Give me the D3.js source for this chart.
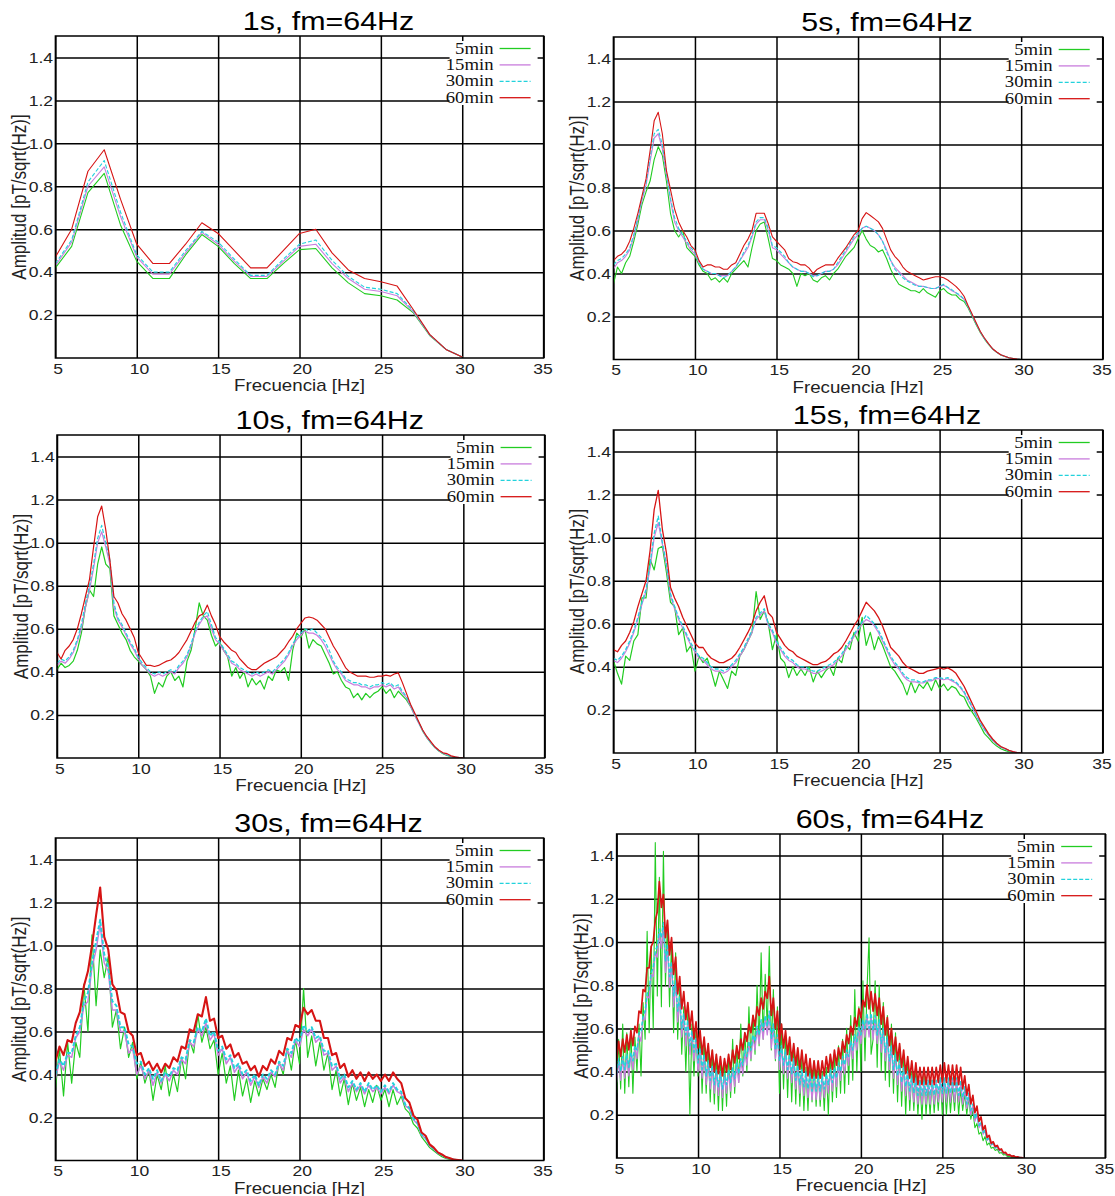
<!DOCTYPE html>
<html>
<head>
<meta charset="utf-8">
<script src="https://cdn.jsdelivr.net/npm/d3@7"></script>
<style>
  body { margin: 0; background: #fff; }
  svg { display: block; }
</style>
</head>
<body>
<div id="chart"></div>
<script>
// frequency grid of the spectra (Hz)
const freqStart = 5;
const freqStep1s = 1;      // 1 s windows -> 1 Hz bins
const freqStep = 0.25;     // 5..30 s windows, read every 0.25 Hz
const freqStep60s = 0.125; // 60 s window, read every 0.125 Hz

const seriesLabels = ["5min", "15min", "30min", "60min"];
const panelTitles = ["1s, fm=64Hz", "5s, fm=64Hz", "10s, fm=64Hz", "15s, fm=64Hz", "30s, fm=64Hz", "60s, fm=64Hz"];
const xTicks = [5, 10, 15, 20, 25, 30, 35];
const yTicks = [0.2, 0.4, 0.6, 0.8, 1.0, 1.2, 1.4];

// amplitudes [pT/sqrt(Hz)]
// --- 1 s window, 5..30 Hz every 1 Hz
const amp1s_5min  = [0.42, 0.52, 0.77, 0.86, 0.62, 0.45, 0.37, 0.37, 0.48, 0.575, 0.52, 0.44, 0.37, 0.37, 0.44, 0.505, 0.51, 0.42, 0.35, 0.30, 0.29, 0.27, 0.21, 0.105, 0.04, 0.005];
const amp1s_15min = [0.43, 0.54, 0.80, 0.89, 0.66, 0.47, 0.39, 0.39, 0.49, 0.585, 0.53, 0.45, 0.38, 0.38, 0.45, 0.52, 0.53, 0.44, 0.37, 0.32, 0.31, 0.29, 0.215, 0.107, 0.04, 0.005];
const amp1s_30min = [0.44, 0.55, 0.82, 0.92, 0.68, 0.48, 0.40, 0.40, 0.50, 0.59, 0.54, 0.46, 0.385, 0.385, 0.46, 0.53, 0.55, 0.455, 0.38, 0.33, 0.32, 0.30, 0.22, 0.108, 0.04, 0.005];
const amp1s_60min = [0.47, 0.60, 0.87, 0.97, 0.74, 0.53, 0.44, 0.44, 0.53, 0.63, 0.58, 0.50, 0.42, 0.42, 0.50, 0.58, 0.60, 0.49, 0.41, 0.37, 0.355, 0.335, 0.225, 0.11, 0.04, 0.005];

// --- 5 s window, 5..30 Hz every 0.25 Hz
const amp5s_5min = [
  0.35, 0.43, 0.40, 0.45, 0.48, 0.55, 0.63, 0.72,
  0.78, 0.83, 0.93, 0.99, 0.95, 0.83, 0.68, 0.60,
  0.57, 0.60, 0.52, 0.50, 0.48, 0.44, 0.41, 0.40,
  0.37, 0.38, 0.36, 0.38, 0.36, 0.40, 0.42, 0.44,
  0.46, 0.43, 0.52, 0.60, 0.63, 0.64, 0.56, 0.47,
  0.46, 0.44, 0.43, 0.42, 0.40, 0.34, 0.40, 0.39,
  0.40, 0.37, 0.36, 0.38, 0.39, 0.37, 0.40, 0.42,
  0.45, 0.48, 0.50, 0.52, 0.56, 0.60, 0.56, 0.53,
  0.52, 0.50, 0.51, 0.47, 0.42, 0.38, 0.35, 0.34,
  0.33, 0.32, 0.32, 0.31, 0.33, 0.31, 0.30, 0.29,
  0.32, 0.33, 0.31, 0.30, 0.30, 0.28, 0.27, 0.24,
  0.20, 0.16, 0.125, 0.095, 0.07, 0.048, 0.033, 0.021,
  0.014, 0.008, 0.004, 0.002, 0
];
const amp5s_15min = [
  0.42, 0.45, 0.46, 0.48, 0.51, 0.57, 0.65, 0.74,
  0.81, 0.92, 1.03, 1.05, 0.98, 0.86, 0.74, 0.64,
  0.60, 0.57, 0.54, 0.51, 0.49, 0.45, 0.42, 0.41,
  0.40, 0.40, 0.39, 0.39, 0.39, 0.41, 0.43, 0.46,
  0.49, 0.52, 0.57, 0.63, 0.65, 0.65, 0.60, 0.52,
  0.51, 0.49, 0.47, 0.45, 0.43, 0.42, 0.41, 0.41,
  0.40, 0.39, 0.39, 0.40, 0.41, 0.41, 0.42, 0.44,
  0.47, 0.50, 0.53, 0.56, 0.58, 0.61, 0.62, 0.61,
  0.60, 0.58, 0.55, 0.51, 0.46, 0.43, 0.41, 0.39,
  0.37, 0.36, 0.35, 0.34, 0.34, 0.335, 0.33, 0.33,
  0.34, 0.345, 0.335, 0.32, 0.31, 0.295, 0.28, 0.245,
  0.205, 0.165, 0.128, 0.097, 0.072, 0.049, 0.034, 0.022,
  0.014, 0.008, 0.004, 0.002, 0
];
const amp5s_30min = [
  0.44, 0.46, 0.47, 0.49, 0.52, 0.58, 0.66, 0.75,
  0.82, 0.94, 1.05, 1.07, 1.00, 0.87, 0.75, 0.66,
  0.61, 0.58, 0.55, 0.52, 0.50, 0.45, 0.42, 0.41,
  0.40, 0.40, 0.39, 0.38, 0.39, 0.41, 0.43, 0.46,
  0.50, 0.53, 0.58, 0.64, 0.66, 0.66, 0.61, 0.53,
  0.52, 0.50, 0.48, 0.45, 0.43, 0.42, 0.41, 0.41,
  0.40, 0.385, 0.39, 0.40, 0.41, 0.41, 0.42, 0.45,
  0.48, 0.51, 0.54, 0.57, 0.59, 0.61, 0.62, 0.61,
  0.60, 0.58, 0.55, 0.50, 0.46, 0.42, 0.40, 0.38,
  0.365, 0.355, 0.345, 0.34, 0.34, 0.335, 0.33, 0.33,
  0.34, 0.35, 0.335, 0.325, 0.31, 0.30, 0.28, 0.245,
  0.205, 0.165, 0.128, 0.097, 0.072, 0.049, 0.034, 0.022,
  0.014, 0.008, 0.004, 0.002, 0
];
const amp5s_60min = [
  0.46, 0.48, 0.49, 0.51, 0.55, 0.61, 0.68, 0.76,
  0.84, 0.97, 1.11, 1.15, 1.05, 0.88, 0.79, 0.70,
  0.64, 0.60, 0.57, 0.53, 0.51, 0.46, 0.43, 0.44,
  0.44, 0.43, 0.43, 0.42, 0.42, 0.44, 0.45, 0.49,
  0.53, 0.56, 0.60, 0.68, 0.68, 0.68, 0.63, 0.57,
  0.55, 0.53, 0.51, 0.47, 0.455, 0.45, 0.44, 0.44,
  0.425, 0.40, 0.42, 0.43, 0.44, 0.44, 0.44, 0.47,
  0.495, 0.52, 0.55, 0.58, 0.60, 0.655, 0.683, 0.67,
  0.655, 0.64, 0.61, 0.56, 0.51, 0.48, 0.46, 0.43,
  0.41, 0.40, 0.39, 0.38, 0.37, 0.375, 0.38, 0.385,
  0.385, 0.38, 0.37, 0.355, 0.34, 0.32, 0.294, 0.25,
  0.21, 0.17, 0.13, 0.10, 0.074, 0.05, 0.035, 0.022,
  0.015, 0.008, 0.005, 0.002, 0
];

// --- 10 s window
const amp10s_5min = [
  0.41, 0.44, 0.42, 0.43, 0.45, 0.50, 0.58, 0.70,
  0.78, 0.75, 0.90, 0.98, 0.90, 0.88, 0.66, 0.62,
  0.58, 0.55, 0.50, 0.47, 0.45, 0.43, 0.41, 0.38,
  0.30, 0.35, 0.33, 0.38, 0.40, 0.36, 0.38, 0.33,
  0.45, 0.50, 0.60, 0.72, 0.66, 0.64, 0.57, 0.52,
  0.54, 0.50, 0.47, 0.38, 0.42, 0.37, 0.40, 0.33,
  0.37, 0.34, 0.36, 0.32, 0.38, 0.36, 0.41, 0.40,
  0.42, 0.36, 0.50, 0.58, 0.56, 0.60, 0.51, 0.55,
  0.53, 0.52, 0.48, 0.44, 0.39, 0.40, 0.36, 0.33,
  0.32, 0.28, 0.30, 0.27, 0.30, 0.28, 0.30, 0.31,
  0.33, 0.30, 0.32, 0.28, 0.31, 0.29, 0.27, 0.24,
  0.20, 0.165, 0.125, 0.095, 0.07, 0.048, 0.032, 0.02,
  0.012, 0.007, 0.003, 0.001, 0
];
const amp10s_15min = [
  0.43, 0.45, 0.44, 0.46, 0.49, 0.54, 0.60, 0.70,
  0.78, 0.88, 1.00, 1.05, 0.98, 0.90, 0.70, 0.64,
  0.61, 0.57, 0.53, 0.50, 0.46, 0.43, 0.41, 0.39,
  0.38, 0.39, 0.38, 0.39, 0.40, 0.39, 0.42, 0.44,
  0.47, 0.52, 0.58, 0.62, 0.65, 0.66, 0.60, 0.55,
  0.53, 0.50, 0.47, 0.44, 0.43, 0.41, 0.40, 0.39,
  0.38, 0.39, 0.38, 0.39, 0.40, 0.39, 0.41, 0.43,
  0.45, 0.48, 0.52, 0.55, 0.57, 0.59, 0.58, 0.58,
  0.57, 0.55, 0.52, 0.48, 0.44, 0.41, 0.39, 0.36,
  0.35, 0.34, 0.34, 0.33, 0.33, 0.32, 0.33, 0.33,
  0.34, 0.33, 0.34, 0.32, 0.33, 0.30, 0.28, 0.24,
  0.20, 0.163, 0.127, 0.096, 0.071, 0.049, 0.034, 0.022,
  0.014, 0.008, 0.004, 0.002, 0
];
const amp10s_30min = [
  0.44, 0.46, 0.45, 0.47, 0.50, 0.55, 0.62, 0.72,
  0.80, 0.90, 1.02, 1.08, 1.00, 0.92, 0.72, 0.65,
  0.62, 0.58, 0.54, 0.51, 0.47, 0.44, 0.42, 0.40,
  0.39, 0.40, 0.39, 0.40, 0.41, 0.40, 0.43, 0.45,
  0.48, 0.53, 0.59, 0.63, 0.66, 0.68, 0.62, 0.56,
  0.54, 0.51, 0.48, 0.45, 0.44, 0.42, 0.41, 0.40,
  0.39, 0.40, 0.39, 0.40, 0.41, 0.40, 0.42, 0.44,
  0.46, 0.49, 0.53, 0.56, 0.58, 0.60, 0.59, 0.60,
  0.58, 0.56, 0.54, 0.50, 0.45, 0.42, 0.40, 0.37,
  0.36, 0.35, 0.35, 0.34, 0.34, 0.33, 0.34, 0.34,
  0.35, 0.34, 0.35, 0.33, 0.34, 0.31, 0.285, 0.245,
  0.205, 0.165, 0.128, 0.097, 0.072, 0.049, 0.034, 0.022,
  0.014, 0.008, 0.004, 0.002, 0
];
const amp10s_60min = [
  0.49, 0.46, 0.50, 0.52, 0.55, 0.60, 0.67, 0.75,
  0.83, 0.98, 1.12, 1.17, 1.06, 0.92, 0.75, 0.72,
  0.67, 0.64, 0.60, 0.56, 0.49, 0.46, 0.43, 0.43,
  0.425, 0.43, 0.44, 0.45, 0.455, 0.47, 0.49, 0.52,
  0.55, 0.59, 0.63, 0.66, 0.67, 0.71, 0.66, 0.62,
  0.565, 0.54, 0.52, 0.50, 0.49, 0.46, 0.44, 0.42,
  0.41, 0.41, 0.425, 0.44, 0.45, 0.46, 0.47, 0.49,
  0.51, 0.54, 0.565, 0.60, 0.625, 0.65, 0.655, 0.65,
  0.64, 0.62, 0.60, 0.56, 0.52, 0.49, 0.455, 0.42,
  0.40, 0.39, 0.38, 0.38, 0.38, 0.375, 0.375, 0.38,
  0.38, 0.385, 0.38, 0.39, 0.395, 0.35, 0.30, 0.25,
  0.21, 0.17, 0.13, 0.10, 0.076, 0.052, 0.036, 0.024,
  0.02, 0.01, 0.005, 0.002, 0
];

// --- 15 s window
const amp15s_5min = [
  0.43, 0.37, 0.32, 0.45, 0.43, 0.52, 0.55, 0.72,
  0.72, 0.90, 0.85, 0.95, 0.96, 0.84, 0.70, 0.68,
  0.55, 0.58, 0.47, 0.50, 0.38, 0.45, 0.42, 0.44,
  0.38, 0.31, 0.38, 0.34, 0.30, 0.38, 0.36, 0.45,
  0.48, 0.52, 0.56, 0.75, 0.62, 0.66, 0.60, 0.48,
  0.55, 0.44, 0.42, 0.35, 0.40, 0.36, 0.39, 0.36,
  0.40, 0.33, 0.38, 0.35, 0.38, 0.40, 0.36, 0.44,
  0.42, 0.50, 0.48, 0.56, 0.52, 0.63, 0.50, 0.56,
  0.48, 0.54, 0.50, 0.45, 0.40, 0.38, 0.35, 0.32,
  0.27, 0.33, 0.28, 0.32, 0.30, 0.33, 0.29, 0.34,
  0.30, 0.32, 0.29, 0.31, 0.30, 0.27, 0.26, 0.22,
  0.19, 0.16, 0.125, 0.09, 0.07, 0.048, 0.032, 0.02,
  0.012, 0.006, 0.003, 0.001, 0
];
const amp15s_15min = [
  0.43, 0.42, 0.44, 0.47, 0.51, 0.56, 0.62, 0.69,
  0.75, 0.86, 1.00, 1.07, 0.97, 0.87, 0.73, 0.67,
  0.62, 0.58, 0.54, 0.50, 0.47, 0.44, 0.43, 0.41,
  0.39, 0.38, 0.38, 0.37, 0.38, 0.40, 0.42, 0.45,
  0.48, 0.52, 0.56, 0.62, 0.64, 0.66, 0.59, 0.56,
  0.51, 0.48, 0.45, 0.43, 0.42, 0.40, 0.39, 0.39,
  0.38, 0.37, 0.37, 0.38, 0.39, 0.40, 0.41, 0.43,
  0.45, 0.48, 0.51, 0.54, 0.57, 0.60, 0.62, 0.61,
  0.59, 0.56, 0.52, 0.48, 0.44, 0.41, 0.39, 0.36,
  0.34, 0.33, 0.33, 0.325, 0.325, 0.335, 0.335, 0.345,
  0.345, 0.34, 0.345, 0.335, 0.325, 0.305, 0.28, 0.245,
  0.21, 0.172, 0.138, 0.108, 0.083, 0.058, 0.041, 0.027,
  0.019, 0.011, 0.005, 0.002, 0
];
const amp15s_30min = [
  0.44, 0.43, 0.45, 0.48, 0.52, 0.57, 0.63, 0.70,
  0.76, 0.88, 1.02, 1.10, 0.98, 0.88, 0.74, 0.68,
  0.63, 0.59, 0.55, 0.51, 0.48, 0.45, 0.44, 0.42,
  0.40, 0.39, 0.39, 0.38, 0.39, 0.41, 0.43, 0.46,
  0.49, 0.53, 0.57, 0.63, 0.65, 0.67, 0.60, 0.57,
  0.52, 0.49, 0.46, 0.44, 0.43, 0.41, 0.40, 0.40,
  0.39, 0.38, 0.38, 0.39, 0.40, 0.41, 0.42, 0.44,
  0.46, 0.49, 0.52, 0.55, 0.58, 0.61, 0.64, 0.62,
  0.60, 0.57, 0.53, 0.49, 0.45, 0.42, 0.40, 0.37,
  0.35, 0.34, 0.34, 0.33, 0.33, 0.34, 0.34, 0.35,
  0.35, 0.345, 0.35, 0.34, 0.33, 0.31, 0.285, 0.25,
  0.215, 0.175, 0.14, 0.11, 0.085, 0.06, 0.042, 0.028,
  0.02, 0.011, 0.005, 0.002, 0
];
const amp15s_60min = [
  0.48, 0.47, 0.50, 0.52, 0.56, 0.61, 0.68, 0.74,
  0.80, 0.94, 1.13, 1.22, 1.04, 0.93, 0.77, 0.72,
  0.68, 0.63, 0.59, 0.55, 0.51, 0.49, 0.49, 0.46,
  0.44, 0.43, 0.42, 0.42, 0.43, 0.44, 0.46, 0.49,
  0.525, 0.56, 0.60, 0.66, 0.70, 0.73, 0.65, 0.63,
  0.56, 0.53, 0.50, 0.48, 0.47, 0.45, 0.44, 0.43,
  0.42, 0.41, 0.41, 0.42, 0.425, 0.44, 0.46, 0.47,
  0.49, 0.52, 0.555, 0.59, 0.62, 0.66, 0.70, 0.68,
  0.66, 0.63, 0.59, 0.54, 0.49, 0.47, 0.45, 0.42,
  0.40, 0.39, 0.38, 0.37, 0.37, 0.38, 0.385, 0.39,
  0.395, 0.39, 0.395, 0.385, 0.37, 0.34, 0.31, 0.27,
  0.23, 0.19, 0.15, 0.12, 0.09, 0.065, 0.045, 0.03,
  0.022, 0.012, 0.006, 0.002, 0
];

// --- 30 s window
const amp30s_5min = [
  0.33, 0.52, 0.30, 0.55, 0.36, 0.55, 0.48, 0.82,
  0.60, 1.05, 0.72, 0.98, 0.85, 0.95, 0.62, 0.70,
  0.52, 0.62, 0.48, 0.55, 0.38, 0.46, 0.36, 0.42,
  0.28, 0.40, 0.33, 0.44, 0.30, 0.40, 0.32, 0.48,
  0.38, 0.56, 0.50, 0.68, 0.55, 0.62, 0.52, 0.56,
  0.40, 0.50, 0.36, 0.44, 0.28, 0.42, 0.30, 0.38,
  0.27, 0.37, 0.30, 0.38, 0.33, 0.40, 0.34, 0.46,
  0.40, 0.52, 0.42, 0.56, 0.45, 0.80, 0.48, 0.58,
  0.44, 0.55, 0.42, 0.50, 0.33, 0.42, 0.30, 0.38,
  0.26, 0.36, 0.28, 0.34, 0.25, 0.33, 0.27, 0.35,
  0.28, 0.33, 0.25, 0.33, 0.26, 0.30, 0.24, 0.22,
  0.17, 0.15, 0.11, 0.085, 0.06, 0.045, 0.03, 0.018,
  0.01, 0.005, 0.002, 0.001, 0
];
const amp30s_15min = [
  0.38, 0.46, 0.42, 0.49, 0.48, 0.57, 0.60, 0.72,
  0.74, 0.90, 0.98, 1.10, 0.92, 0.88, 0.70, 0.70,
  0.60, 0.60, 0.50, 0.52, 0.40, 0.44, 0.38, 0.42,
  0.35, 0.41, 0.36, 0.40, 0.37, 0.42, 0.40, 0.47,
  0.45, 0.55, 0.53, 0.61, 0.58, 0.64, 0.56, 0.59,
  0.49, 0.52, 0.45, 0.48, 0.41, 0.44, 0.38, 0.41,
  0.35, 0.39, 0.34, 0.39, 0.36, 0.41, 0.39, 0.45,
  0.42, 0.51, 0.48, 0.56, 0.53, 0.61, 0.58, 0.61,
  0.55, 0.57, 0.49, 0.50, 0.42, 0.44, 0.36, 0.39,
  0.32, 0.36, 0.32, 0.35, 0.31, 0.35, 0.32, 0.34,
  0.31, 0.34, 0.31, 0.35, 0.32, 0.31, 0.255, 0.24,
  0.19, 0.17, 0.118, 0.103, 0.068, 0.054, 0.034, 0.025,
  0.014, 0.009, 0.004, 0.002, 0
];
const amp30s_30min = [
  0.40, 0.47, 0.44, 0.50, 0.50, 0.58, 0.62, 0.74,
  0.78, 0.92, 1.02, 1.12, 0.96, 0.90, 0.74, 0.72,
  0.62, 0.62, 0.54, 0.53, 0.45, 0.46, 0.40, 0.43,
  0.38, 0.42, 0.37, 0.41, 0.39, 0.43, 0.42, 0.48,
  0.47, 0.56, 0.55, 0.62, 0.60, 0.66, 0.58, 0.60,
  0.51, 0.53, 0.47, 0.49, 0.43, 0.45, 0.40, 0.42,
  0.37, 0.40, 0.35, 0.40, 0.38, 0.42, 0.40, 0.46,
  0.44, 0.52, 0.50, 0.57, 0.55, 0.63, 0.60, 0.62,
  0.57, 0.58, 0.51, 0.51, 0.44, 0.45, 0.38, 0.40,
  0.34, 0.37, 0.33, 0.36, 0.32, 0.36, 0.33, 0.35,
  0.32, 0.35, 0.32, 0.36, 0.33, 0.32, 0.26, 0.245,
  0.195, 0.175, 0.12, 0.105, 0.07, 0.055, 0.035, 0.026,
  0.015, 0.009, 0.004, 0.002, 0
];
const amp30s_60min = [
  0.46, 0.53, 0.49, 0.56, 0.55, 0.64, 0.69, 0.81,
  0.88, 1.00, 1.14, 1.27, 1.04, 0.98, 0.82, 0.79,
  0.69, 0.68, 0.60, 0.58, 0.49, 0.50, 0.44, 0.46,
  0.42, 0.45, 0.41, 0.45, 0.43, 0.48, 0.46, 0.53,
  0.52, 0.61, 0.60, 0.68, 0.67, 0.76, 0.65, 0.66,
  0.57, 0.58, 0.52, 0.54, 0.48, 0.50, 0.45, 0.46,
  0.42, 0.44, 0.39, 0.44, 0.42, 0.47, 0.45, 0.51,
  0.49, 0.57, 0.56, 0.63, 0.62, 0.71, 0.68, 0.70,
  0.65, 0.65, 0.57, 0.57, 0.49, 0.50, 0.43, 0.45,
  0.39, 0.42, 0.38, 0.41, 0.37, 0.41, 0.38, 0.40,
  0.37, 0.40, 0.37, 0.41, 0.38, 0.36, 0.29, 0.27,
  0.21, 0.19, 0.13, 0.115, 0.075, 0.06, 0.038, 0.028,
  0.016, 0.01, 0.004, 0.002, 0
];

// --- 60 s window, 5..30 Hz every 0.125 Hz (one row per Hz)
const amp60s_5min = [
  0.30, 0.55, 0.32, 0.62, 0.30, 0.58, 0.33, 0.60,
  0.30, 0.56, 0.40, 0.62, 0.38, 0.72, 0.55, 1.05,
  0.58, 0.98, 0.60, 1.46, 0.75, 1.30, 0.70, 1.42,
  0.80, 1.10, 0.70, 1.00, 0.58, 0.95, 0.55, 0.80,
  0.48, 0.70, 0.40, 0.68, 0.20, 0.62, 0.38, 0.60,
  0.38, 0.58, 0.30, 0.55, 0.30, 0.52, 0.26, 0.50,
  0.25, 0.48, 0.22, 0.46, 0.22, 0.45, 0.24, 0.48,
  0.28, 0.55, 0.30, 0.52, 0.35, 0.62, 0.38, 0.58,
  0.40, 0.70, 0.45, 0.66, 0.48, 0.80, 0.52, 0.95,
  0.55, 0.85, 0.60, 0.98, 0.50, 0.78, 0.45, 0.70,
  0.30, 0.62, 0.32, 0.58, 0.28, 0.55, 0.26, 0.52,
  0.25, 0.50, 0.24, 0.46, 0.22, 0.42, 0.22, 0.44,
  0.26, 0.45, 0.24, 0.42, 0.24, 0.40, 0.22, 0.42,
  0.20, 0.48, 0.26, 0.48, 0.28, 0.52, 0.30, 0.55,
  0.30, 0.60, 0.34, 0.66, 0.36, 0.78, 0.40, 0.70,
  0.40, 0.82, 0.45, 0.78, 1.02, 0.48, 0.55, 0.82,
  0.42, 0.80, 0.40, 0.72, 0.36, 0.66, 0.33, 0.62,
  0.30, 0.58, 0.26, 0.52, 0.24, 0.48, 0.20, 0.44,
  0.22, 0.40, 0.22, 0.40, 0.20, 0.36, 0.18, 0.38,
  0.20, 0.34, 0.20, 0.36, 0.21, 0.35, 0.22, 0.37,
  0.20, 0.36, 0.20, 0.35, 0.21, 0.34, 0.22, 0.36,
  0.20, 0.32, 0.22, 0.30, 0.20, 0.28, 0.18, 0.22,
  0.14, 0.16, 0.11, 0.12, 0.08, 0.10, 0.06, 0.07,
  0.045, 0.05, 0.035, 0.04, 0.022, 0.025, 0.014, 0.016,
  0.007, 0.008, 0.004, 0.004, 0.002, 0.002, 0.001, 0.001,
  0
];
const amp60s_15min = [
  0.35, 0.45, 0.36, 0.46, 0.37, 0.47, 0.38, 0.48,
  0.41, 0.51, 0.46, 0.57, 0.54, 0.65, 0.64, 0.75,
  0.74, 0.85, 0.84, 0.95, 0.93, 1.04, 0.97, 1.07,
  0.86, 0.97, 0.79, 0.90, 0.70, 0.81, 0.63, 0.74,
  0.56, 0.66, 0.52, 0.62, 0.48, 0.58, 0.45, 0.55,
  0.40, 0.50, 0.37, 0.47, 0.34, 0.44, 0.32, 0.42,
  0.30, 0.40, 0.29, 0.39, 0.28, 0.38, 0.30, 0.40,
  0.31, 0.41, 0.33, 0.43, 0.35, 0.45, 0.39, 0.49,
  0.43, 0.53, 0.46, 0.56, 0.50, 0.60, 0.53, 0.63,
  0.55, 0.65, 0.57, 0.67, 0.51, 0.61, 0.46, 0.56,
  0.41, 0.51, 0.39, 0.49, 0.37, 0.47, 0.35, 0.45,
  0.32, 0.42, 0.30, 0.40, 0.29, 0.39, 0.28, 0.38,
  0.27, 0.37, 0.27, 0.37, 0.27, 0.37, 0.28, 0.38,
  0.30, 0.40, 0.31, 0.41, 0.33, 0.43, 0.36, 0.46,
  0.39, 0.49, 0.43, 0.53, 0.46, 0.56, 0.50, 0.60,
  0.53, 0.63, 0.56, 0.66, 0.56, 0.66, 0.55, 0.65,
  0.53, 0.63, 0.49, 0.59, 0.45, 0.55, 0.41, 0.51,
  0.37, 0.47, 0.34, 0.44, 0.31, 0.41, 0.29, 0.39,
  0.27, 0.37, 0.26, 0.36, 0.25, 0.35, 0.25, 0.35,
  0.25, 0.35, 0.25, 0.35, 0.25, 0.35, 0.26, 0.36,
  0.26, 0.36, 0.26, 0.36, 0.26, 0.36, 0.26, 0.36,
  0.26, 0.35, 0.25, 0.32, 0.23, 0.29, 0.20, 0.24,
  0.17, 0.20, 0.14, 0.16, 0.11, 0.125, 0.082, 0.092,
  0.06, 0.066, 0.046, 0.05, 0.033, 0.036, 0.021, 0.023,
  0.012, 0.013, 0.007, 0.008, 0.004, 0.004, 0.002, 0.002,
  0
];
const amp60s_30min = [
  0.39, 0.46, 0.40, 0.47, 0.41, 0.48, 0.42, 0.49,
  0.45, 0.52, 0.50, 0.58, 0.58, 0.66, 0.68, 0.76,
  0.78, 0.86, 0.88, 0.96, 0.98, 1.06, 1.02, 1.09,
  0.91, 0.99, 0.84, 0.91, 0.75, 0.82, 0.68, 0.75,
  0.60, 0.67, 0.57, 0.64, 0.52, 0.59, 0.49, 0.56,
  0.44, 0.51, 0.41, 0.48, 0.38, 0.45, 0.36, 0.43,
  0.34, 0.41, 0.33, 0.40, 0.32, 0.39, 0.34, 0.41,
  0.35, 0.42, 0.37, 0.44, 0.39, 0.46, 0.43, 0.50,
  0.47, 0.54, 0.50, 0.57, 0.54, 0.61, 0.57, 0.64,
  0.59, 0.66, 0.61, 0.68, 0.55, 0.62, 0.50, 0.57,
  0.45, 0.52, 0.43, 0.50, 0.41, 0.48, 0.39, 0.46,
  0.36, 0.43, 0.34, 0.41, 0.33, 0.40, 0.32, 0.39,
  0.31, 0.38, 0.31, 0.38, 0.31, 0.38, 0.32, 0.39,
  0.34, 0.41, 0.35, 0.42, 0.37, 0.44, 0.40, 0.47,
  0.43, 0.50, 0.47, 0.54, 0.50, 0.57, 0.54, 0.61,
  0.57, 0.64, 0.60, 0.67, 0.60, 0.67, 0.59, 0.66,
  0.57, 0.64, 0.53, 0.60, 0.49, 0.56, 0.45, 0.52,
  0.41, 0.48, 0.38, 0.45, 0.35, 0.42, 0.33, 0.40,
  0.31, 0.38, 0.30, 0.37, 0.29, 0.36, 0.29, 0.36,
  0.29, 0.36, 0.29, 0.36, 0.29, 0.36, 0.30, 0.37,
  0.30, 0.37, 0.30, 0.37, 0.30, 0.37, 0.30, 0.37,
  0.29, 0.36, 0.28, 0.33, 0.25, 0.30, 0.22, 0.25,
  0.18, 0.21, 0.15, 0.17, 0.115, 0.13, 0.085, 0.095,
  0.062, 0.068, 0.048, 0.052, 0.034, 0.037, 0.022, 0.024,
  0.012, 0.014, 0.007, 0.009, 0.004, 0.005, 0.002, 0.002,
  0
];
const amp60s_60min = [
  0.45, 0.54, 0.47, 0.55, 0.49, 0.57, 0.50, 0.59,
  0.52, 0.61, 0.58, 0.68, 0.67, 0.78, 0.77, 0.88,
  0.88, 0.98, 1.00, 1.10, 1.14, 1.28, 1.16, 1.22,
  1.02, 1.10, 0.94, 1.02, 0.85, 0.93, 0.76, 0.84,
  0.69, 0.77, 0.64, 0.72, 0.60, 0.68, 0.55, 0.63,
  0.51, 0.59, 0.48, 0.56, 0.45, 0.53, 0.42, 0.50,
  0.40, 0.48, 0.39, 0.47, 0.38, 0.46, 0.40, 0.48,
  0.41, 0.50, 0.44, 0.52, 0.46, 0.55, 0.50, 0.58,
  0.54, 0.62, 0.58, 0.66, 0.61, 0.70, 0.66, 0.74,
  0.69, 0.77, 0.74, 0.84, 0.66, 0.74, 0.60, 0.68,
  0.54, 0.62, 0.51, 0.59, 0.48, 0.56, 0.45, 0.53,
  0.43, 0.51, 0.41, 0.50, 0.40, 0.48, 0.38, 0.46,
  0.37, 0.45, 0.37, 0.45, 0.37, 0.45, 0.38, 0.47,
  0.40, 0.48, 0.41, 0.50, 0.43, 0.51, 0.46, 0.54,
  0.49, 0.57, 0.53, 0.61, 0.57, 0.65, 0.61, 0.69,
  0.65, 0.73, 0.70, 0.80, 0.69, 0.77, 0.68, 0.76,
  0.66, 0.74, 0.62, 0.70, 0.57, 0.65, 0.52, 0.60,
  0.48, 0.56, 0.45, 0.53, 0.42, 0.50, 0.39, 0.47,
  0.37, 0.45, 0.35, 0.44, 0.34, 0.42, 0.34, 0.42,
  0.34, 0.42, 0.34, 0.42, 0.34, 0.42, 0.35, 0.43,
  0.35, 0.44, 0.35, 0.43, 0.34, 0.43, 0.34, 0.43,
  0.34, 0.42, 0.32, 0.38, 0.29, 0.34, 0.25, 0.29,
  0.21, 0.24, 0.17, 0.19, 0.13, 0.15, 0.095, 0.105,
  0.068, 0.075, 0.053, 0.058, 0.038, 0.042, 0.024, 0.026,
  0.014, 0.016, 0.008, 0.01, 0.004, 0.005, 0.002, 0.002,
  0
];

const panels = [
  { title: panelTitles[0], step: freqStep1s, series: [amp1s_5min, amp1s_15min, amp1s_30min, amp1s_60min] },
  { title: panelTitles[1], step: freqStep, series: [amp5s_5min, amp5s_15min, amp5s_30min, amp5s_60min] },
  { title: panelTitles[2], step: freqStep, series: [amp10s_5min, amp10s_15min, amp10s_30min, amp10s_60min] },
  { title: panelTitles[3], step: freqStep, series: [amp15s_5min, amp15s_15min, amp15s_30min, amp15s_60min] },
  { title: panelTitles[4], step: freqStep, series: [amp30s_5min, amp30s_15min, amp30s_30min, amp30s_60min] },
  { title: panelTitles[5], step: freqStep60s, series: [amp60s_5min, amp60s_15min, amp60s_30min, amp60s_60min] }
];

// plot rectangles of the six panels (pixels) and line weights (5, 15, 30, 60 min)
const layout = [
  { left: 55.4, right: 543.6, top: 36, bottom: 358, cut: 395, lw: [1.1, 1.1, 1.1, 1.1] },
  { left: 613.4, right: 1102.7, top: 37, bottom: 359.5, cut: 395, lw: [1.1, 1.1, 1.1, 1.1] },
  { left: 57, right: 544.6, top: 435, bottom: 758, cut: 794, lw: [1.2, 1.2, 1.2, 1.2] },
  { left: 613.4, right: 1102.7, top: 430, bottom: 753, cut: 794, lw: [1.2, 1.2, 1.3, 1.3] },
  { left: 55.4, right: 543.6, top: 838, bottom: 1160.5, cut: 1196, lw: [1.2, 1.5, 1.9, 2.1] },
  { left: 616.6, right: 1105.2, top: 834, bottom: 1158, cut: 1196, lw: [1.1, 1.3, 1.5, 1.7] }
];

const colors = ["#22cc22", "#c97ddd", "#22d2dc", "#d61414"];
const dashes = [null, null, "4,2", null];
const stretch = 1.17;   // the original raster is widened horizontally
const sans = "'Liberation Sans', Arial, sans-serif";
const serif = "'Liberation Serif', 'Times New Roman', serif";

const W = 1115, H = 1196;
const svg = d3.select("#chart").append("svg")
  .attr("width", W)
  .attr("height", H)
  .style("background", "#fff");
const defs = svg.append("defs");

panels.forEach((p, k) => {
  const L = layout[k];
  const w = L.right - L.left, h = L.bottom - L.top;
  const g = svg.append("g");

  const x = d3.scaleLinear().domain([5, 35]).range([L.left, L.right]);
  const y = d3.scaleLinear().domain([0, 1.5]).range([L.bottom, L.top]);

  defs.append("clipPath").attr("id", "plot" + k)
    .append("rect").attr("x", L.left).attr("y", L.top).attr("width", w).attr("height", h);
  defs.append("clipPath").attr("id", "cut" + k)
    .append("rect").attr("x", L.left - 60).attr("y", L.top - 40).attr("width", w + 70).attr("height", L.cut - L.top + 40);

  // grid + tick labels through d3 axes
  const xAxis = g.append("g")
    .attr("transform", "translate(0," + L.bottom + ")")
    .call(d3.axisBottom(x).tickValues(xTicks).tickSize(-h).tickPadding(5).tickFormat(d3.format("d")));
  const yAxis = g.append("g")
    .attr("transform", "translate(" + L.left + ",0)")
    .call(d3.axisLeft(y).tickValues(yTicks).tickSize(-w).tickPadding(2).tickFormat(d3.format(".1f")));

  [xAxis, yAxis].forEach(a => {
    a.select(".domain").remove();
    a.selectAll(".tick line").attr("stroke", "#000").attr("stroke-width", 1.5);
    a.selectAll(".tick text")
      .attr("fill", "#222")
      .attr("font-size", 15)
      .attr("font-family", sans)
      .attr("transform", "scale(" + stretch + ",1)");
  });
  // last label pulled in a little so it stays inside the page
  xAxis.selectAll(".tick text").attr("x", d => d === 35 ? -1 : 2);

  // spectra
  const line = d3.line()
    .x((d, i) => x(freqStart + i * p.step))
    .y(d => y(d));

  g.append("g").attr("clip-path", "url(#plot" + k + ")")
    .selectAll("path")
    .data(p.series)
    .join("path")
    .attr("d", line)
    .attr("fill", "none")
    .attr("stroke", (d, i) => colors[i])
    .attr("stroke-width", (d, i) => L.lw[i])
    .attr("stroke-dasharray", (d, i) => dashes[i])
    .attr("stroke-linejoin", "round");

  // frame
  g.append("rect")
    .attr("x", L.left).attr("y", L.top).attr("width", w).attr("height", h)
    .attr("fill", "none").attr("stroke", "#000").attr("stroke-width", 1.5);

  // key
  const key = g.append("g");
  key.append("rect")
    .attr("x", L.right - 94).attr("y", L.top + 5)
    .attr("width", 88).attr("height", 64)
    .attr("fill", "#fff");
  seriesLabels.forEach((lab, i) => {
    const ry = L.top + 12.5 + i * 16.4;
    key.append("text")
      .attr("transform", "translate(" + (L.right - 50) + "," + (ry + 5) + ") scale(" + stretch + ",1)")
      .attr("text-anchor", "end")
      .attr("font-family", serif)
      .attr("font-size", 16)
      .attr("fill", "#111")
      .text(lab);
    key.append("line")
      .attr("x1", L.right - 44).attr("x2", L.right - 13)
      .attr("y1", ry).attr("y2", ry)
      .attr("stroke", colors[i])
      .attr("stroke-width", 1.3)
      .attr("stroke-dasharray", dashes[i]);
  });

  // title
  g.append("text")
    .attr("transform", "translate(" + ((L.left + L.right) / 2 + 29) + "," + (L.top - 6) + ") scale(" + stretch + ",1)")
    .attr("text-anchor", "middle")
    .attr("font-family", sans)
    .attr("font-size", 26)
    .attr("fill", "#000")
    .text(p.title);

  // axis titles (the x title is trimmed at the bottom of its panel, as in the source)
  g.append("g")
    .attr("clip-path", "url(#cut" + k + ")")
    .append("text")
    .attr("transform", "translate(" + ((L.left + L.right) / 2) + "," + (L.bottom + 33) + ") scale(" + stretch + ",1)")
    .attr("text-anchor", "middle")
    .attr("font-family", sans)
    .attr("font-size", 16)
    .attr("fill", "#222")
    .text("Frecuencia [Hz]");

  g.append("text")
    .attr("transform", "translate(" + (L.left - 29) + "," + ((L.top + L.bottom) / 2) + ") scale(" + stretch + ",1) rotate(-90)")
    .attr("text-anchor", "middle")
    .attr("font-family", sans)
    .attr("font-size", 17)
    .attr("fill", "#222")
    .text("Amplitud [pT/sqrt(Hz)]");
});
</script>
</body>
</html>
